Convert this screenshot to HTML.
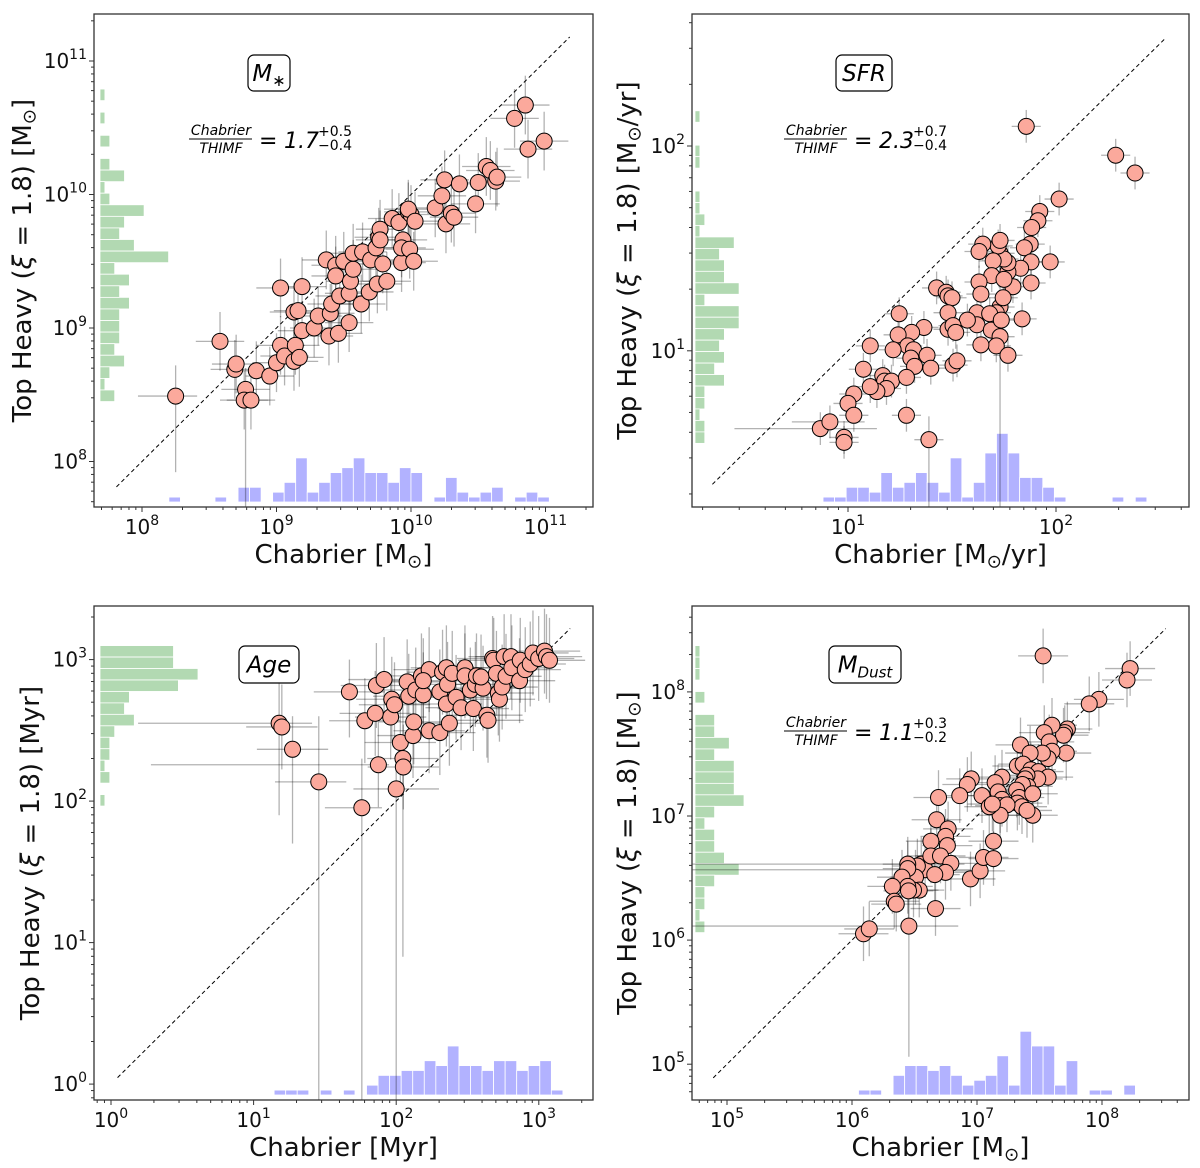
<!DOCTYPE html>
<html><head><meta charset="utf-8"><style>
html,body{margin:0;padding:0;background:#fff;}
svg{display:block;font-family:"DejaVu Sans","Liberation Sans",sans-serif;}
</style></head><body>
<svg id="fig" xmlns="http://www.w3.org/2000/svg" width="1200" height="1168" viewBox="0 0 1200 1168"></svg>
<script>
// ---------- DATA (log10 values) ----------
// Panel 1: stellar mass
const mstarChabLog = [8.25,8.77,8.58,8.69,8.70,8.76,8.81,8.85,8.95,9.00,9.03,9.03,9.06,9.13,9.14,9.13,9.17,9.16,9.19,9.19,9.28,9.31,9.37,9.39,9.40,9.41,9.44,9.44,9.46,9.47,9.50,9.54,9.54,9.55,9.57,9.57,9.63,9.64,9.69,9.70,9.75,9.79,9.74,9.76,9.77,9.77,9.82,9.86,9.91,9.93,9.94,9.93,9.98,10.0,9.98,9.99,10.02,10.03,10.18,10.23,10.25,10.26,10.30,10.32,10.36,10.48,10.50,10.56,10.59,10.63,10.64,10.77,10.85,10.87,10.99];
const mstarTHLog  = [8.49,8.54,8.90,8.69,8.73,8.46,8.46,8.68,8.64,8.74,9.30,8.87,8.79,9.12,8.87,8.75,8.78,9.13,9.31,8.98,9.00,9.09,9.51,8.94,9.11,9.18,9.47,9.39,8.96,9.24,9.50,9.04,9.26,9.35,9.44,9.56,9.18,9.57,9.27,9.51,9.33,9.48,9.60,9.68,9.74,9.66,9.35,9.82,9.79,9.49,9.66,9.60,9.87,9.85,9.89,9.59,9.50,9.80,9.90,9.99,10.11,9.78,9.86,9.83,10.08,9.93,10.09,10.21,10.18,10.10,10.13,10.57,10.67,10.34,10.40];
const mstarHistX = [1,0,0,0,1,0,3,3,0,2,4,9,2,4,6,7,9,6,6,4,7,6,0,1,5,2,1,2,3,0,1,2,1];
const mstarHistY = [1,0,1,0,2,0,2,5,1,2,9,5,4,7,14,3,6,4,6,4,4,4,3,5,2,1,3];
const mstarBins = {xStart:8.20, xWidth:0.0857, yTop:10.79, yWidth:0.0867};
const mstarLongErr = [{i:0,xlo:7.97,xhi:8.41,ylo:7.92,yhi:8.72},{i:1,ylo:7.55,yhi:8.7}];

// Panel 2: SFR
const sfrChabLog = [1.731,1.389,0.867,0.913,1.857,2.287,2.380,2.015,1.922,1.913,1.883,1.876,1.848,1.972,1.880,1.880,1.830,1.793,1.769,1.769,1.731,1.750,1.722,1.731,1.648,1.630,1.698,1.691,1.630,1.639,1.750,1.746,1.713,1.620,1.620,1.681,1.689,1.737,1.731,1.713,1.639,1.769,1.837,1.574,1.426,1.472,1.481,1.500,1.481,1.481,1.505,1.518,1.365,1.306,1.246,1.241,1.287,1.315,1.302,1.320,1.380,1.398,1.505,1.524,1.217,1.107,1.074,1.167,1.176,1.209,1.185,1.139,1.107,1.281,1.028,1.000,1.028,1.281,0.981,0.981];
const sfrTHLog   = [1.214,0.566,0.620,0.653,2.096,1.955,1.868,1.741,1.680,1.635,1.602,1.521,1.503,1.434,1.434,1.331,1.403,1.313,1.385,1.430,1.476,1.448,1.512,1.539,1.521,1.485,1.439,1.367,1.336,1.277,1.349,1.259,1.186,1.186,1.127,1.181,1.101,1.150,1.069,1.024,1.029,0.978,1.156,1.150,1.307,1.286,1.268,1.259,1.186,1.105,1.123,1.090,1.114,1.090,1.181,1.078,1.024,1.005,0.964,0.924,0.978,0.915,0.930,0.951,1.005,1.024,0.910,0.879,0.852,0.852,0.816,0.801,0.825,0.870,0.789,0.743,0.685,0.685,0.577,0.553];
const sfrHistX = [1,1,3,3,2,6,3,4,6,4,2,9,1,4,10,14,10,5,5,3,1,0,0,0,0,1,0,1];
const sfrHistY = [1,0,0,1,1,0,0,1,1,2,1,8,5,6,6,9,2,9,9,6,5,6,4,6,2,2,1,2,2];
const sfrBins = {xStart:0.880, xWidth:0.0556, yTop:2.172, yWidth:0.056};
const sfrLongErr = [{i:0,ylo:0.2,yhi:1.42},{i:1,ylo:0.2,yhi:0.68},{i:2,xlo:0.454,xhi:1.139},{i:3,xlo:0.73,xhi:1.08}];

// Panel 3: Age
const ageChabLog = [1.457,1.759,2.0,2.047,1.179,1.672,1.875,1.273,1.198,2.050,2.029,2.118,2.231,2.306,2.373,2.123,1.961,1.780,1.853,1.969,1.988,1.861,1.915,2.077,2.088,2.137,2.190,2.177,2.231,2.190,2.306,2.325,2.360,2.352,2.420,2.455,2.352,2.393,2.482,2.482,2.541,2.520,2.555,2.563,2.609,2.636,2.644,2.595,2.676,2.684,2.703,2.716,2.724,2.743,2.770,2.757,2.805,2.811,2.865,2.870,2.905,2.940,2.959,2.999,3.040,3.054,3.075];
const ageTHLog   = [2.136,1.953,2.086,2.301,2.550,2.772,2.257,2.366,2.524,2.241,2.414,2.463,2.497,2.484,2.550,2.560,2.594,2.568,2.620,2.720,2.681,2.817,2.859,2.843,2.741,2.785,2.751,2.885,2.929,2.851,2.772,2.911,2.825,2.686,2.733,2.660,2.942,2.903,2.942,2.885,2.654,2.785,2.825,2.885,2.798,2.607,2.571,2.877,3.008,2.995,2.903,2.764,2.720,2.806,2.882,3.021,3.021,2.942,2.851,2.995,2.929,2.969,3.047,3.008,3.060,3.021,2.995];
const ageHistX = [1,1,1,0,1,0,1,0,2,4,4,5,5,7,6,10,6,6,5,7,7,5,6,7,1];
const ageHistY = [15,15,20,16,6,5,7,3,2,2,1,2,0,1];
const ageBins = {xStart:1.144, xWidth:0.081, yTop:3.099, yWidth:0.081};
const ageLongErr = [{i:0,ylo:-0.2,yhi:2.6,xlo:1.15,xhi:1.65},{i:1,ylo:-0.2,yhi:2.3,xlo:1.5,xhi:1.9},{i:2,ylo:-0.2,yhi:2.3,xlo:1.7,xhi:2.3},{i:3,ylo:0.9,yhi:2.7},{i:4,xlo:0.19,xhi:1.41,ylo:1.9,yhi:2.9},{i:6,xlo:0.28,xhi:1.95},{i:5,ylo:2.45,yhi:3.0},{i:7,ylo:1.7,yhi:2.6}];

// Panel 4: Dust mass
const dustChabLog = [6.554,6.585,6.455,7.529,8.225,8.200,7.975,7.898,7.723,7.702,7.692,7.714,7.600,7.538,7.578,7.600,7.569,7.523,7.348,7.425,7.323,7.369,7.431,7.492,7.569,7.486,7.400,7.385,7.406,7.363,7.317,7.338,7.323,7.360,7.446,7.446,7.400,7.200,7.145,7.169,7.200,7.185,7.240,7.185,7.040,7.098,7.123,6.954,6.923,6.862,6.692,6.677,6.769,6.748,6.763,6.631,6.631,6.708,6.791,6.748,6.662,6.523,6.508,6.538,6.492,6.446,6.446,6.400,6.446,6.452,6.323,6.338,6.354,6.668,6.948,7.025,7.052,7.132,7.132,6.092,6.138];
const dustTHLog   = [6.612,6.567,6.113,8.290,8.188,8.096,7.940,7.904,7.701,7.672,7.651,7.507,7.731,7.672,7.597,7.522,7.463,7.507,7.573,7.507,7.403,7.418,7.373,7.358,7.313,7.299,7.328,7.299,7.239,7.254,7.209,7.149,7.104,7.075,7.179,7.006,7.045,7.313,7.269,7.194,7.134,7.084,7.090,7.006,7.164,7.075,7.096,7.299,7.254,7.164,7.149,6.970,6.896,6.836,6.761,6.797,6.678,6.678,6.618,6.546,6.528,6.597,6.507,6.403,6.403,6.612,6.576,6.507,6.433,6.397,6.433,6.313,6.290,6.254,6.493,6.558,6.666,6.797,6.657,6.051,6.090];
const dustHistX = [1,1,0,4,6,6,5,6,4,2,3,4,8,2,13,10,10,2,7,0,1,1,0,2];
const dustHistY = [1,1,1,0,2,0,4,4,7,4,8,8,8,10,4,2,4,4,6,9,4,2,2,1,2];
const dustBins = {xStart:6.052, xWidth:0.0923, yTop:8.373, yWidth:0.0925};
const dustLongErr = [{i:0,xlo:4.7,xhi:6.9},{i:1,xlo:4.7,xhi:6.95},{i:2,xlo:4.7,xhi:6.85,ylo:5.06,yhi:6.4}];

// ---------- RENDER ----------
const NS='http://www.w3.org/2000/svg';
const svg=document.getElementById('fig');
function mk(tag,attrs,parent){const e=document.createElementNS(NS,tag);for(const k in attrs)e.setAttribute(k,attrs[k]);(parent||svg).appendChild(e);return e;}

const panels=[
 {key:'mstar',L:94,R:593,T:14,B:507,xd0:8,xp0:142,xdec:134.5,yd0:11,yp0:61,ydec:133.5,
  xs:mstarChabLog,ys:mstarTHLog,hx:mstarHistX,hy:mstarHistY,bins:mstarBins,longErr:mstarLongErr,ex:0.18,ey:0.22,
  line:[7.81,11.18],ytitleX:22,unit:'M☉',xunit:'M☉',ratio:['1.7','+0.5','−0.4'],
  box:{x:248,y:55,w:42,h:36,main:'M',sub:'∗'},ratioY:0},
 {key:'sfr',L:692,R:1189,T:14,B:507,xd0:1,xp0:848,xdec:208,yd0:2,yp0:146,ydec:204.8,
  xs:sfrChabLog,ys:sfrTHLog,hx:sfrHistX,hy:sfrHistY,bins:sfrBins,longErr:sfrLongErr,ex:0.07,ey:0.08,
  line:[0.348,2.53],ytitleX:627,unit:'M☉/yr',xunit:'M☉/yr',ratio:['2.3','+0.7','−0.4'],
  box:{x:836,y:55,w:56,h:36,main:'SFR',sub:''},ratioY:0},
 {key:'age',L:94,R:593,T:606,B:1100,xd0:0,xp0:111,xdec:142.6,yd0:3,yp0:659.6,ydec:141.5,
  xs:ageChabLog,ys:ageTHLog,hx:ageHistX,hy:ageHistY,bins:ageBins,longErr:ageLongErr,ex:0.25,ey:0.3,
  line:[0.046,3.22],ytitleX:30,unit:'Myr',xunit:'Myr',ratio:null,
  box:{x:239,y:646,w:60,h:37,main:'Age',sub:''}},
 {key:'dust',L:692,R:1189,T:606,B:1100,xd0:5,xp0:727,xdec:125,yd0:8,yp0:691.9,ydec:124.1,
  xs:dustChabLog,ys:dustTHLog,hx:dustHistX,hy:dustHistY,bins:dustBins,longErr:dustLongErr,ex:0.2,ey:0.22,
  line:[4.89,8.51],ytitleX:627,unit:'M☉',xunit:'M☉',ratio:['1.1','+0.3','−0.2'],
  box:{x:829,y:646,w:72,h:37,main:'M',sub:'Dust'},ratioY:592}
];

function unitTspans(t,unit,size){
  const parts=unit.split('☉');
  t.appendChild(document.createTextNode('['+parts[0]));
  if(parts.length>1){
    const s=mk('tspan',{'font-size':size*0.7,dy:size*0.18},t);s.textContent='⊙';
    const r=mk('tspan',{dy:-size*0.18},t);r.textContent=parts[1]+']';
  } else { t.lastChild.textContent='['+parts[0]+']'; }
}

panels.forEach((p,pi)=>{
  const X=v=>p.xp0+(v-p.xd0)*p.xdec;
  const Y=v=>p.yp0-(v-p.yd0)*p.ydec;
  const xmin=p.xd0+(p.L-p.xp0)/p.xdec, xmax=p.xd0+(p.R-p.xp0)/p.xdec;
  const ymax=p.yd0+(p.yp0-p.T)/p.ydec, ymin=p.yd0-(p.B-p.yp0)/p.ydec;
  const g=mk('g',{});
  
  
  const cid='clip'+pi;
  const cp=mk('clipPath',{id:cid},g);mk('rect',{x:p.L,y:p.T,width:p.R-p.L,height:p.B-p.T},cp);
  const plot=mk('g',{'clip-path':'url(#'+cid+')'},g);
  
  
  const U=4.9;
  const hb=p.B-5;
  p.hx.forEach((c,i)=>{ if(!c) return;
    const x0=X(p.bins.xStart+i*p.bins.xWidth), x1=X(p.bins.xStart+(i+1)*p.bins.xWidth);
    const r=mk('rect',{x:x0,y:hb-c*U,width:x1-x0,height:c*U,fill:'rgba(0,0,255,0.3)',stroke:'#fff','stroke-width':0.8},plot);
    
    
  });
  const hl=p.L+(pi%2===0?6:3);
  p.hy.forEach((c,i)=>{ if(!c) return;
    const y0=Y(p.bins.yTop-i*p.bins.yWidth), y1=Y(p.bins.yTop-(i+1)*p.bins.yWidth);
    const r=mk('rect',{x:hl,y:y0,width:c*U,height:y1-y0,fill:'rgba(0,128,0,0.3)',stroke:'#fff','stroke-width':0.8},plot);
    
    
  });
  const ln=mk('line',{x1:X(p.line[0]),y1:Y(p.line[0]),x2:X(p.line[1]),y2:Y(p.line[1]),stroke:'#000','stroke-width':1,'stroke-dasharray':'4,3'},plot);
  
  
  const eg=mk('g',{stroke:'rgba(0,0,0,0.3)','stroke-width':1.3},plot);
  
  
  p.xs.forEach((xv,i)=>{
    const yv=p.ys[i];
    const le=p.longErr.find(o=>o.i===i)||{};
    const xlo=le.xlo!==undefined?le.xlo:xv-p.ex, xhi=le.xhi!==undefined?le.xhi:xv+p.ex;
    const ylo=le.ylo!==undefined?le.ylo:yv-p.ey, yhi=le.yhi!==undefined?le.yhi:yv+p.ey;
    mk('line',{x1:X(xlo),y1:Y(yv),x2:X(xhi),y2:Y(yv)},eg);
    mk('line',{x1:X(xv),y1:Y(ylo),x2:X(xv),y2:Y(yhi)},eg);
  });
  p.xs.forEach((xv,i)=>{
    const c=mk('circle',{cx:X(xv),cy:Y(p.ys[i]),r:8,fill:'#fba99c',stroke:'#000','stroke-width':1},plot);
    
    
  });
  const fr=mk('rect',{x:p.L,y:p.T,width:p.R-p.L,height:p.B-p.T,fill:'none',stroke:'#333','stroke-width':1.3},g);
  
  
  const tg=mk('g',{stroke:'#333','stroke-width':1},g);
  
  
  for(let d=Math.floor(xmin);d<=Math.ceil(xmax);d++){
    for(let m=1;m<=9;m++){const v=d+Math.log10(m); if(v<xmin||v>xmax) continue;
      const len=m===1?5:3; mk('line',{x1:X(v),y1:p.B,x2:X(v),y2:p.B+len},tg);
      if(m===1){const t=mk('text',{x:X(v),y:p.B+27,'text-anchor':'middle','font-size':20,fill:'#111',stroke:'none'},g);
        
        
        t.appendChild(document.createTextNode('10'));const s=mk('tspan',{'font-size':14,dy:-9},t);s.textContent=String(d);}
    }
  }
  for(let d=Math.floor(ymin);d<=Math.ceil(ymax);d++){
    for(let m=1;m<=9;m++){const v=d+Math.log10(m); if(v<ymin||v>ymax) continue;
      const len=m===1?5:3; mk('line',{x1:p.L-len,y1:Y(v),x2:p.L,y2:Y(v)},tg);
      if(m===1){const t=mk('text',{x:p.L-7,y:Y(v)+7,'text-anchor':'end','font-size':20,fill:'#111',stroke:'none'},g);
        
        
        t.appendChild(document.createTextNode('10'));const s=mk('tspan',{'font-size':14,dy:-9},t);s.textContent=String(d);}
    }
  }
  const cx=(p.L+p.R)/2;
  const xt=mk('text',{x:cx,y:p.B+56,'text-anchor':'middle','font-size':26,fill:'#111'},g);
  
  
  xt.appendChild(document.createTextNode('Chabrier '));unitTspans(xt,p.xunit,26);
  const cy=(p.T+p.B)/2;
  const yt=mk('text',{x:0,y:0,'text-anchor':'middle','font-size':26,fill:'#111',transform:`translate(${p.ytitleX+9},${cy}) rotate(-90)`},g);
  
  
  yt.appendChild(document.createTextNode('Top Heavy ('));
  const xi=mk('tspan',{'font-style':'italic'},yt);xi.textContent='ξ';
  yt.appendChild(document.createTextNode(' = 1.8) '));unitTspans(yt,p.unit,26);
  const b=p.box;
  const br=mk('rect',{x:b.x,y:b.y,width:b.w,height:b.h,rx:6,fill:'#fff',stroke:'#000','stroke-width':1.2},g);
  
  
  const bt=mk('text',{x:b.x+b.w/2,y:b.y+b.h/2+8,'text-anchor':'middle','font-size':23,'font-style':'italic',fill:'#000'},g);
  
  
  bt.appendChild(document.createTextNode(b.main));
  if(b.sub){const s=mk('tspan',{'font-size':b.sub==='∗'?16:15,dy:5},bt);s.textContent=b.sub;}
  if(p.ratio){
    const ox=pi%2===0?0:595, oy=p.ratioY;
    const rg=mk('g',{fill:'#000'},g);
    
    
    const n=mk('text',{x:ox+221,y:oy+135,'text-anchor':'middle','font-size':14,'font-style':'italic'},rg);n.textContent='Chabrier';
    mk('line',{x1:ox+189,y1:oy+139,x2:ox+252,y2:oy+139,stroke:'#000','stroke-width':1},rg);
    const dn=mk('text',{x:ox+221,y:oy+153,'text-anchor':'middle','font-size':14,'font-style':'italic'},rg);dn.textContent='THIMF';
    const eq=mk('text',{x:ox+259,y:oy+148,'font-size':22},rg);eq.textContent='=';
    const val=mk('text',{x:ox+284,y:oy+148,'font-size':22,'font-style':'italic'},rg);val.textContent=p.ratio[0];
    const sp=mk('text',{x:ox+318,y:oy+136,'font-size':14},rg);sp.textContent=p.ratio[1];
    const sb=mk('text',{x:ox+318,y:oy+150,'font-size':14},rg);sb.textContent=p.ratio[2];
  }
});
</script>
</body></html>
